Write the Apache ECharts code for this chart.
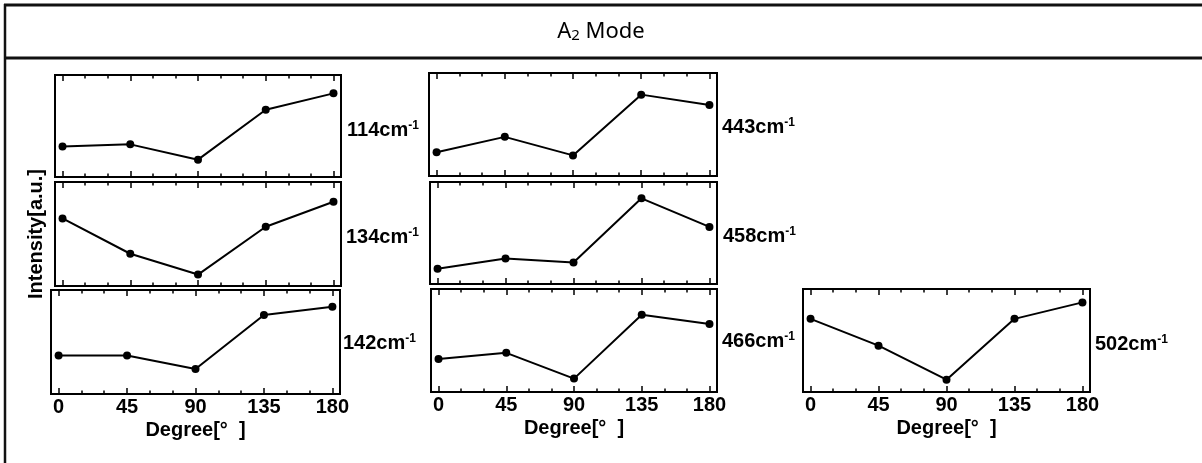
<!DOCTYPE html>
<html>
<head>
<meta charset="utf-8">
<script src="https://cdn.jsdelivr.net/npm/echarts@6/dist/echarts.min.js"></script>
<style>
  html, body { margin: 0; padding: 0; background: #fff; }
  #myCharts { width: 1202px; height: 463px; }
</style>
</head>
<body>
<div id="myCharts"></div>
<script>
  // polarisation angle (x) and normalised intensities
  const degrees = [0, 45, 90, 135, 180];
  const majorTicks = [0, 45, 90, 135, 180];
  const minorTicks = [15, 30, 60, 75, 105, 120, 150, 165];
  const i114 = [0.30, 0.32, 0.17, 0.66, 0.82];
  const i134 = [0.65, 0.31, 0.11, 0.57, 0.81];
  const i142 = [0.37, 0.37, 0.24, 0.76, 0.84];
  const i443 = [0.23, 0.38, 0.20, 0.79, 0.69];
  const i458 = [0.15, 0.25, 0.21, 0.84, 0.56];
  const i466 = [0.32, 0.38, 0.13, 0.75, 0.66];
  const i502 = [0.71, 0.45, 0.12, 0.71, 0.87];
  const peakNames = ['114', '134', '142', '443', '458', '466', '502'];

  // panel boxes: [left, top, width, height], label position, bottom row?
  const panels = [
    { box: [55, 75, 286, 102], data: i114, lx: 347, ly: 130, bottom: false },
    { box: [55, 182, 286, 104], data: i134, lx: 346, ly: 237, bottom: false, yname: true },
    { box: [51, 290, 289, 104], data: i142, lx: 343, ly: 343, bottom: true },
    { box: [429, 73, 288, 103], data: i443, lx: 722, ly: 127, bottom: false },
    { box: [430, 182, 287, 102], data: i458, lx: 723, ly: 236, bottom: false },
    { box: [431, 289, 286, 103], data: i466, lx: 722, ly: 341, bottom: true },
    { box: [803, 289, 287, 103], data: i502, lx: 1095, ly: 344, bottom: true }
  ];

  const font = 'Liberation Sans, Arial, sans-serif';
  const grid = [], xAxis = [], yAxis = [], series = [], graphic = [];

  function tickAxis(gi, pos, values, len, labels) {
    xAxis.push({
      type: 'value', gridIndex: gi, position: pos, min: -5, max: 185,
      axisLine: { show: false },
      splitLine: { show: false },
      axisTick: { show: true, inside: true, length: len, customValues: values,
        lineStyle: { color: '#000', width: 1.5 } },
      axisLabel: labels ? {
        show: true, customValues: majorTicks, margin: 3,
        color: '#000', fontFamily: font, fontWeight: 'bold', fontSize: 20
      } : { show: false },
      name: labels ? 'Degree[°  ]' : '',
      nameLocation: 'middle', nameGap: 26,
      nameTextStyle: { color: '#000', fontFamily: font, fontWeight: 'bold', fontSize: 20 }
    });
    return xAxis.length - 1;
  }

  panels.forEach(function (p, gi) {
    grid.push({ left: p.box[0], top: p.box[1], width: p.box[2], height: p.box[3],
      show: true, borderColor: '#000', borderWidth: 2, backgroundColor: 'transparent' });
    const xi = tickAxis(gi, 'bottom', majorTicks, 6, p.bottom);
    tickAxis(gi, 'bottom', minorTicks, 3.5, false);
    tickAxis(gi, 'top', majorTicks, 6, false);
    tickAxis(gi, 'top', minorTicks, 3.5, false);
    yAxis.push({
      type: 'value', gridIndex: gi, min: 0, max: 1,
      axisLine: { show: false }, axisTick: { show: false },
      axisLabel: { show: false }, splitLine: { show: false },
      name: p.yname ? 'Intensity[a.u.]' : '',
      nameLocation: 'middle', nameRotate: 90, nameGap: 9,
      nameTextStyle: { color: '#000', fontFamily: font, fontWeight: 'bold', fontSize: 20 }
    });
    series.push({
      type: 'line', xAxisIndex: xi, yAxisIndex: gi,
      data: degrees.map(function (d, k) { return [d, p.data[k]]; }),
      symbol: 'circle', symbolSize: 8,
      itemStyle: { color: '#000' },
      lineStyle: { color: '#000', width: 2 },
      animation: false
    });
    graphic.push({
      type: 'text', x: p.lx, y: p.ly,
      style: {
        text: '{n|' + peakNames[gi] + 'cm}{s|-1}',
        verticalAlign: 'middle',
        rich: {
          n: { fontFamily: font, fontWeight: 'bold', fontSize: 20, fill: '#000' },
          s: { fontFamily: font, fontWeight: 'bold', fontSize: 12, fill: '#000', verticalAlign: 'top' }
        }
      }
    });
  });

  // frame and title
  graphic.push(
    { type: 'line', shape: { x1: 4, y1: 5, x2: 1202, y2: 5 }, style: { stroke: '#111', lineWidth: 3 } },
    { type: 'line', shape: { x1: 4, y1: 58, x2: 1202, y2: 58 }, style: { stroke: '#111', lineWidth: 3 } },
    { type: 'line', shape: { x1: 5, y1: 4, x2: 5, y2: 463 }, style: { stroke: '#111', lineWidth: 2.5 } },
    {
      type: 'text', x: 601, y: 32,
      style: {
        text: '{a|A}{s|2}{a| Mode}', align: 'center', verticalAlign: 'middle',
        rich: {
          a: { fontFamily: 'Noto Sans, sans-serif', fontSize: 22, fill: '#000' },
          s: { fontFamily: 'Noto Sans, sans-serif', fontSize: 15, fill: '#000', verticalAlign: 'bottom' }
        }
      }
    }
  );

  const mychart = echarts.init(document.getElementById('myCharts'));
  mychart.setOption({ animation: false, grid: grid, xAxis: xAxis, yAxis: yAxis, series: series, graphic: graphic });
  window.onresize = mychart.resize;
</script>
</body>
</html>
